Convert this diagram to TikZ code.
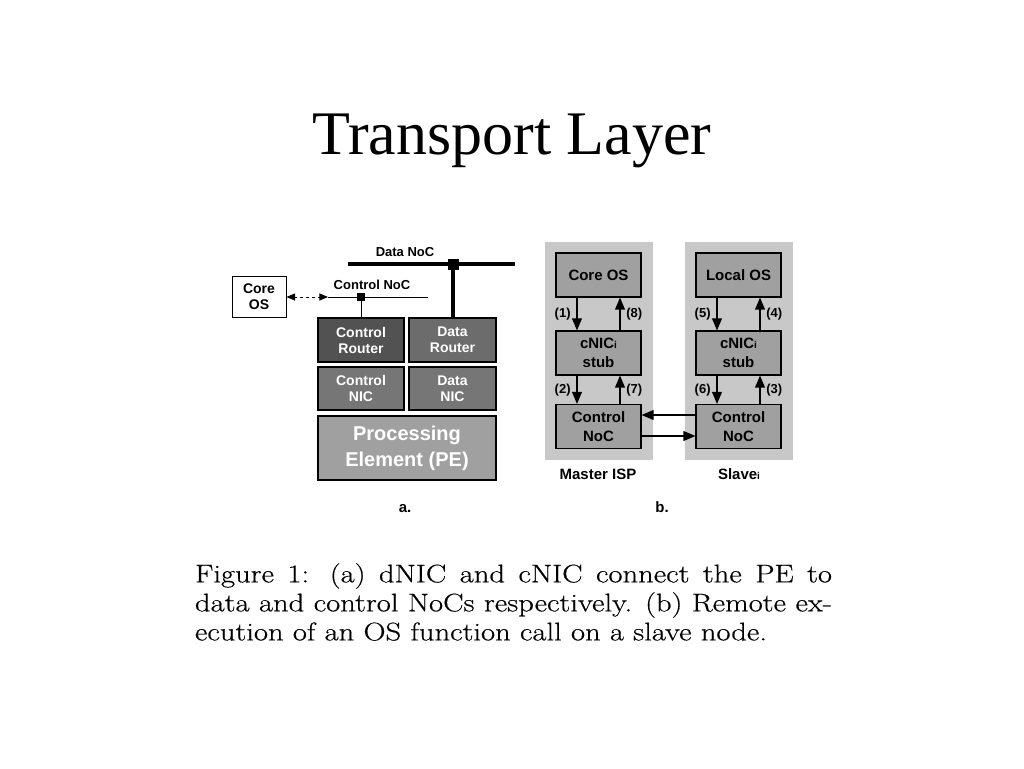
\documentclass[tikz,border=0pt]{standalone}
\usepackage{fontspec}
\usepackage{tikz}
\usetikzlibrary{arrows}
\newfontfamily\titlefont{Liberation Serif}
\newfontfamily\figfont{Liberation Sans}
\newfontfamily\capfont[FakeStretch=1.2,FakeBold=0.5]{Latin Modern Roman}
\definecolor{crgray}{RGB}{82,82,82}
\definecolor{drgray}{RGB}{108,108,108}
\definecolor{nicgray}{RGB}{118,118,118}
\definecolor{pegray}{RGB}{160,160,160}
\definecolor{osgray}{RGB}{160,160,160}
\definecolor{panelgray}{RGB}{200,200,200}
\tikzset{
  hwbox/.style={draw=black, line width=1.2pt, text=white, align=center, inner sep=0pt,
    font=\figfont\bfseries\fontsize{14}{16}\selectfont},
  swbox/.style={draw=black, line width=1.2pt, fill=osgray, text=black, align=center,
    inner sep=0pt, minimum width=85pt, minimum height=44pt,
    font=\figfont\bfseries\fontsize{15}{19}\selectfont},
  panel/.style={fill=panelgray, inner sep=0pt, minimum width=108pt, minimum height=218pt},
  lbl/.style={font=\figfont\bfseries\fontsize{13}{15}\selectfont},
  biglbl/.style={font=\figfont\bfseries\fontsize{15}{17}\selectfont, anchor=base},
  steplbl/.style={font=\figfont\bfseries\fontsize{13}{15}\selectfont, inner sep=5.5pt},
  arr/.style={->, line width=1.8pt},
  tap/.style={fill=black, inner sep=0pt}
}
\newcommand{\idx}{{\fontsize{10}{10}\selectfont i}}
\begin{document}
\begin{tikzpicture}[x=1pt,y=-1pt,>=triangle 45]
\useasboundingbox (0,0) rectangle (1024,768);

% title
\node[font=\titlefont\fontsize{62}{68}\selectfont] (title) at (512,141) {Transport Layer};

% a. -- dNIC / cNIC
\node[draw=black, line width=1pt, fill=white, align=center, minimum width=54pt, minimum height=41pt,
  inner sep=0pt, font=\figfont\bfseries\fontsize{14}{16}\selectfont] (coreos) at (259,297) {Core\\OS};
\node[hwbox, fill=crgray, minimum width=86pt, minimum height=44pt] (crouter) at (361,340) {Control\\Router};
\node[hwbox, fill=drgray, minimum width=87pt, minimum height=44pt] (drouter) at (452.5,340) {Data\\Router};
\node[hwbox, fill=nicgray, minimum width=86pt, minimum height=43pt] (cnic) at (361,388.5) {Control\\NIC};
\node[hwbox, fill=nicgray, minimum width=87pt, minimum height=43pt] (dnic) at (452.5,388.5) {Data\\NIC};
\node[hwbox, fill=pegray, minimum width=178pt, minimum height=64pt,
  font=\figfont\bfseries\fontsize{20}{26}\selectfont] (pe) at (407,448) {Processing\\Element (PE)};

\coordinate (cnocl) at (328,297);
\coordinate (cnocr) at (428,297);
\coordinate (dnocl) at (348,264);
\coordinate (dnocr) at (515,264);
\draw[line width=0.8pt] (cnocl) -- (cnocr);
\draw[line width=4pt] (dnocl) -- (dnocr);
\node[tap, minimum size=8pt] (ctap) at (361,297) {};
\node[tap, minimum size=11pt] (dtap) at (453,264) {};
\draw[line width=0.8pt] (ctap.south) -- (crouter.north -| ctap.south);
\draw[line width=4pt] (dtap.center) -- (drouter.north -| dtap.center);
\draw[<->, dashed, line width=1pt] (coreos.east) -- (cnocl);

\node[lbl] (dnoclbl) at (405,252) {Data NoC};
\node[lbl] (cnoclbl) at (372,285) {Control NoC};
\node[biglbl] (alabel) at (405,512) {a.};

% b. -- remote OS call
\node[panel] (mpanel) at (599,351) {};
\node[panel] (spanel) at (739,351) {};
\node[swbox] (mcore) at (598.5,275) {Core OS};
\node[swbox] (mstub) at (598.5,353) {cNIC\idx\\stub};
\node[swbox] (mnoc) at (598.5,426.5) {Control\\NoC};
\node[swbox] (score) at (738.5,275) {Local OS};
\node[swbox] (sstub) at (738.5,353) {cNIC\idx\\stub};
\node[swbox] (snoc) at (738.5,426.5) {Control\\NoC};

\draw[arr] ([xshift=-21.5pt]mcore.south) -- node[steplbl, left] {(1)} ([xshift=-21.5pt]mstub.north);
\draw[arr] ([xshift=21.5pt]mstub.north) -- node[steplbl, right] {(8)} ([xshift=21.5pt]mcore.south);
\draw[arr] ([xshift=-21.5pt]mstub.south) -- node[steplbl, left] {(2)} ([xshift=-21.5pt]mnoc.north);
\draw[arr] ([xshift=21.5pt]mnoc.north) -- node[steplbl, right] {(7)} ([xshift=21.5pt]mstub.south);
\draw[arr] ([xshift=-21.5pt]score.south) -- node[steplbl, left] {(5)} ([xshift=-21.5pt]sstub.north);
\draw[arr] ([xshift=21.5pt]sstub.north) -- node[steplbl, right] {(4)} ([xshift=21.5pt]score.south);
\draw[arr] ([xshift=-21.5pt]sstub.south) -- node[steplbl, left] {(6)} ([xshift=-21.5pt]snoc.north);
\draw[arr] ([xshift=21.5pt]snoc.north) -- node[steplbl, right] {(3)} ([xshift=21.5pt]sstub.south);
\draw[arr] ([yshift=11.5pt]snoc.west) -- ([yshift=11.5pt]mnoc.east);
\draw[arr] ([yshift=-9.5pt]mnoc.east) -- ([yshift=-9.5pt]snoc.west);

\node[biglbl] (mname) at (598,479) {Master ISP};
\node[biglbl] (sname) at (739,479) {Slave\idx};
\node[biglbl] (blabel) at (662,512) {b.};

% caption
\node[text width=637pt, inner sep=0pt, align=justify, font=\capfont\fontsize{25.5}{29}\selectfont] (caption) at (513.5,602)
  {Figure 1: (a) dNIC and cNIC connect the PE to\linebreak
   data and control NoCs respectively. (b) Remote ex-\linebreak
   ecution of an OS function call on a slave node.};
\end{tikzpicture}
\end{document}
